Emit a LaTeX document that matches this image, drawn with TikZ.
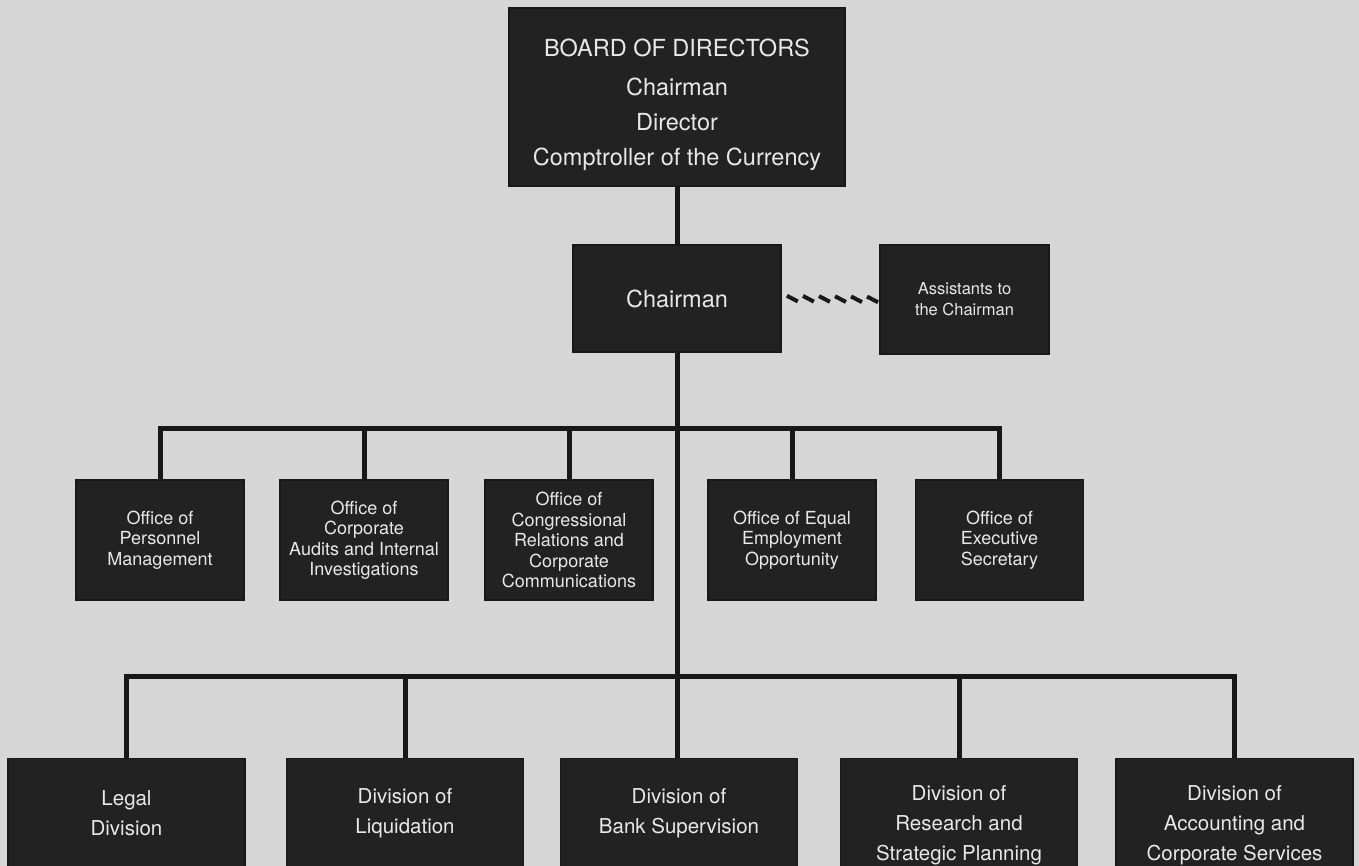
\documentclass[tikz,border=0pt]{standalone}
\usepackage{fontspec}
\setmainfont{TeX Gyre Heros}
\usetikzlibrary{decorations.markings}
\definecolor{bg}{RGB}{214,214,214}
\definecolor{boxc}{RGB}{34,34,34}
\definecolor{txt}{RGB}{232,232,232}
\definecolor{ln}{RGB}{24,24,24}
\begin{document}
\begin{tikzpicture}[x=1pt,y=-1pt,
  box/.style={draw=ln, line width=1.2pt, fill=boxc, text=txt, align=center, inner sep=0pt},
  boardbox/.style={box, minimum width=336pt, minimum height=178pt, font=\fontsize{23.5}{35}\selectfont},
  chairbox/.style={box, minimum width=208pt, minimum height=107pt, font=\fontsize{23.5}{28}\selectfont},
  asstbox/.style={box, minimum width=169pt, minimum height=109pt, font=\fontsize{16.5}{21}\selectfont},
  officebox/.style={box, minimum width=168pt, minimum height=120pt, font=\fontsize{18}{20.5}\selectfont},
  divbox/.style={box, anchor=north, minimum width=237pt, font=\fontsize{20.5}{30}\selectfont},
  wire/.style={draw=ln, line width=5pt},
  hatch/.style={postaction={decorate}, decoration={markings,
     mark=between positions 0.11 and 0.94 step 0.164 with {\draw[ln, line width=4pt] (-5.5,-2.8) -- (5.5,2.8);}}}
]
\fill[bg] (0,0) rectangle (1359,866);
\clip (0,0) rectangle (1359,866);

\coordinate (obus) at (677,428);
\coordinate (dbus) at (677,676);

\node[boardbox] (bod) at (677,97) {\rule{0pt}{33pt}BOARD OF DIRECTORS\\[4pt]Chairman\\Director\\Comptroller of the Currency};
\node[chairbox] (chair) at (677,298.5) {Chairman};
\node[asstbox] (asst) at (964.5,299.5) {Assistants to\\the Chairman};

\node[officebox] (pers) at (160,540) {Office of\\Personnel\\Management};
\node[officebox] (aud) at (364,540) {Office of\\Corporate\\Audits and Internal\\Investigations};
\node[officebox] (cong) at (569,540) {Office of\\Congressional\\Relations and\\Corporate\\Communications};
\node[officebox] (eeo) at (792,540) {Office of Equal\\Employment\\Opportunity};
\node[officebox] (exec) at (999.5,540) {Office of\\Executive\\Secretary};

\node[divbox, minimum height=110pt] (legal) at (126.5,758) {Legal\\Division};
\node[divbox, minimum height=110pt] (liq) at (405,758) {Division of\\Liquidation};
\node[divbox, minimum height=110pt] (bank) at (679,758) {Division of\\Bank Supervision};
\node[divbox, minimum height=134pt] (res) at (959,758) {Division of\\Research and\\Strategic Planning};
\node[divbox, minimum height=134pt] (acct) at (1234.5,758) {Division of\\Accounting and\\Corporate Services};

\draw[wire] (bod.south) -- (chair.north);
\draw[wire] (chair.south) -- (chair.south |- bank.north);
\draw[wire] (pers.north) |- (obus) -| (exec.north);
\foreach \n in {aud,cong,eeo} \draw[wire] (\n.north) -- (\n.north |- obus);
\draw[wire] (legal.north) |- (dbus) -| (acct.north);
\foreach \n in {liq,res} \draw[wire] (\n.north) -- (\n.north |- dbus);
\path[hatch] (chair.east) -- (asst.west);
\end{tikzpicture}
\end{document}
